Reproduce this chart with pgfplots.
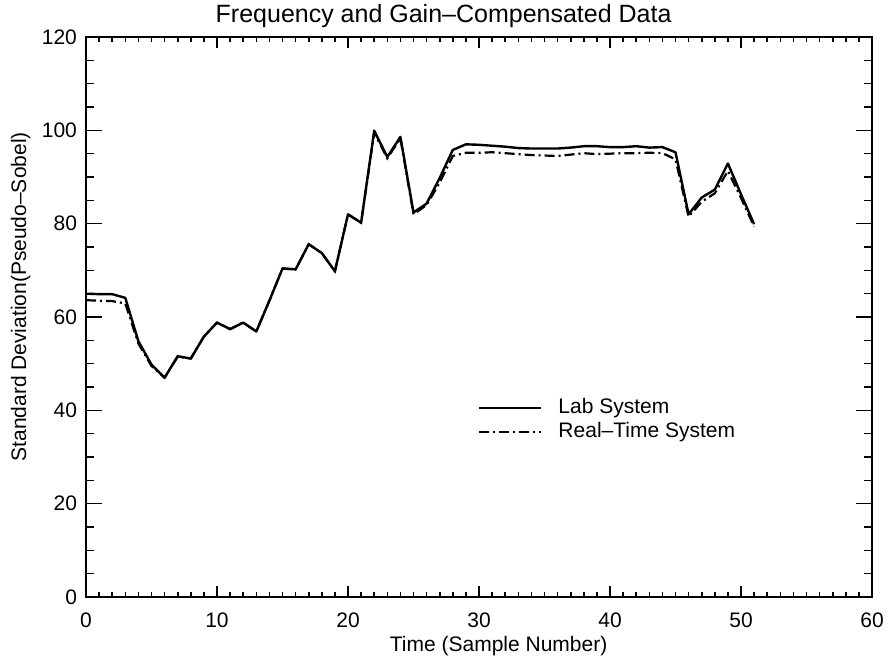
\documentclass[border=0pt]{standalone}
\usepackage{pgfplots}
\pgfplotsset{compat=1.18}
\usepackage{fontspec}
\setmainfont{Liberation Sans}
\pgfplotstableread{
x lab rt
0 65.0 63.6
1 64.9 63.5
2 64.9 63.4
3 64.1 62.9
4 54.8 54.3
5 49.8 49.5
6 47.0 47.0
7 51.6 51.5
8 51.1 51.1
9 55.8 55.8
10 58.8 58.8
11 57.4 57.4
12 58.8 58.8
13 56.9 56.9
14 63.5 63.5
15 70.4 70.4
16 70.2 70.2
17 75.6 75.6
18 73.7 73.7
19 69.8 69.8
20 82.0 82.0
21 80.2 80.2
22 99.9 99.5
23 94.3 94.0
24 98.6 98.3
25 82.4 82.0
26 84.3 84.0
27 89.8 88.8
28 95.8 94.5
29 97.0 95.2
30 96.9 95.2
31 96.7 95.3
32 96.5 95.1
33 96.2 94.9
34 96.1 94.7
35 96.1 94.6
36 96.1 94.5
37 96.3 94.8
38 96.6 95.1
39 96.6 94.9
40 96.4 95.0
41 96.4 95.1
42 96.6 95.1
43 96.3 95.2
44 96.4 95.1
45 95.3 93.8
46 82.0 81.5
47 85.6 84.7
48 87.3 86.5
49 92.9 91.3
50 86.3 85.5
51 79.9 79.4
}\datatable
\begin{document}
\begin{tikzpicture}
\useasboundingbox (-43pt,-31pt) rectangle (401pt,298.5pt);
\pgfplotsset{common/.style={
  at={(0,0)}, anchor=south west, scale only axis,
  width=393pt, height=280pt,
  xmin=0, xmax=60, ymin=0, ymax=120,
  axis line style={line width=1pt},
  every tick/.style={line width=0.8pt, black},
  /pgf/number format/assume math mode=true,
  tick label style={font=\fontsize{10.5}{12}\selectfont},
}}
\begin{axis}[common,
  xtick={0,10,...,60}, minor x tick num=9, ytick=\empty,
  major tick length=5.5pt, minor tick length=2.5pt,
  xticklabel style={anchor=base, yshift=-15pt},
  xlabel={Time (Sample Number)},
  every axis x label/.style={at={(axis description cs:0.525,0)}, anchor=base, yshift=-27pt, font=\fontsize{10.5}{12}\selectfont},
  title={Frequency and Gain–Compensated Data},
  every axis title/.style={at={(axis description cs:0.455,1)}, anchor=base, yshift=7pt, font=\fontsize{12.5}{14}\selectfont},
]
\end{axis}
\begin{axis}[common,
  xtick=\empty, ytick={0,20,...,120}, minor y tick num=3,
  major tick length=8pt, minor tick length=4pt,
  yticklabel style={anchor=east, xshift=-1pt},
  ylabel={Standard Deviation(Pseudo–Sobel)},
  every axis y label/.style={at={(axis description cs:-0.083,0.536)}, rotate=90, anchor=center, font=\fontsize{10.5}{12}\selectfont},
  legend style={at={(axis cs:29.9,37.9)}, anchor=west, draw=none, fill=none, inner sep=0pt,
    nodes={inner sep=0pt, text height=8pt, text depth=3pt, font=\fontsize{10.5}{12}\selectfont},
    column sep=8pt, row sep=1pt},
  legend cell align=left,
  legend image code/.code={\draw[#1] (0pt,0pt) -- (31pt,0pt);},
]
\addplot[black, line width=1.2pt, line join=round] table[x=x, y=lab] {\datatable};
\addlegendentry{Lab System}
\addplot[black, line width=1.1pt, dash pattern=on 5pt off 2pt on 1pt off 2pt] table[x=x, y=rt] {\datatable};
\addlegendentry{Real–Time System}
\end{axis}
\end{tikzpicture}
\end{document}
